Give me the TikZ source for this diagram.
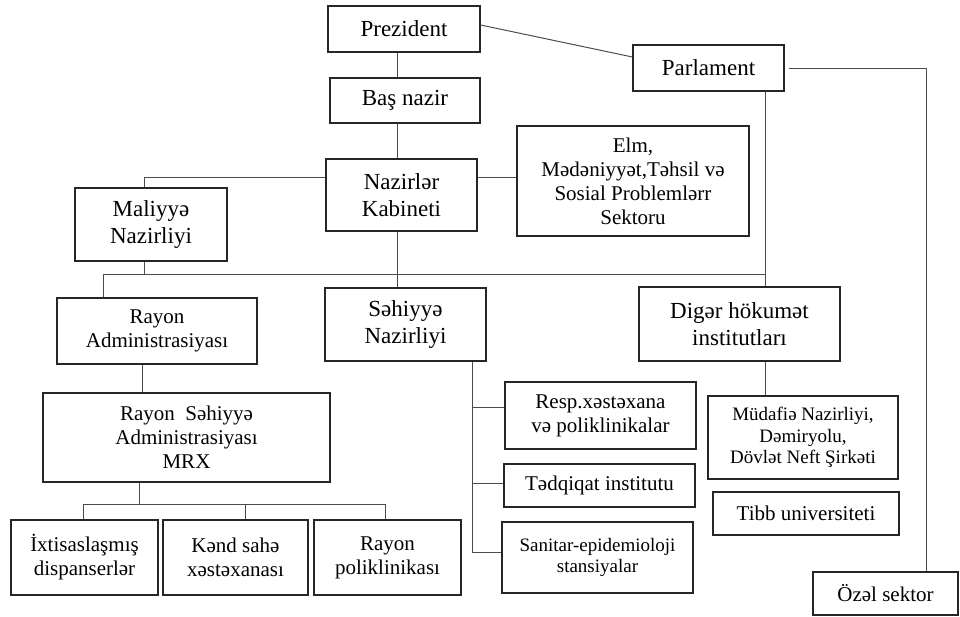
\documentclass[tikz,border=0pt]{standalone}
\usepackage{fontspec}
\setmainfont{Liberation Serif}
\usetikzlibrary{calc}

\begin{document}
\begin{tikzpicture}
[x=1pt, y=-1pt,
% STYLES
% The unit style is used to draw the boxes of the structure
unit/.style={rectangle, draw=black!85, line width=1.3pt, fill=white, inner sep=2pt, align=center, font=\fontsize{21}{24}\selectfont},
bigunit/.style={unit, font=\fontsize{23}{27}\selectfont},
smallunit/.style={unit, font=\fontsize{19}{21.5}\selectfont},
link/.style={draw=black!70, line width=1pt}]

\useasboundingbox (0,0) rectangle (960,616);

% Draw units
\node [bigunit, minimum width=152pt, minimum height=46pt] (prezident) at (404,29) {Prezident};
\node [bigunit, minimum width=150pt, minimum height=45pt] (basnazir) at (405,100.5) {Baş nazir};
\node [bigunit, minimum width=151pt, minimum height=72pt] (kabinet) at (401.5,195) {Nazirlər\\Kabineti};
\node [bigunit, minimum width=151pt, minimum height=46pt] (parlament) at (708.5,68) {Parlament};
\node [unit, minimum width=232pt, minimum height=110pt] (elm) at (633,181) {Elm,\\Mədəniyyət,Təhsil və\\Sosial Problemlərr\\Sektoru};
\node [bigunit, minimum width=152pt, minimum height=73pt] (maliyye) at (151,224.5) {Maliyyə\\Nazirliyi};
\node [unit, minimum width=200pt, minimum height=66pt] (rayon) at (157,331) {Rayon\\Administrasiyası};
\node [bigunit, minimum width=161pt, minimum height=73pt] (sehiyye) at (405.5,324.5) {Səhiyyə\\Nazirliyi};
\node [bigunit, minimum width=201pt, minimum height=74pt] (diger) at (739.5,324) {Digər hökumət\\institutları};
\node [unit, minimum width=287pt, minimum height=89pt] (mrx) at (186.5,437.5) {Rayon\ \ Səhiyyə\\Administrasiyası\\MRX};
\node [unit, minimum width=147pt, minimum height=75pt] (ixtisas) at (84.5,557.5) {İxtisaslaşmış\\dispanserlər};
\node [unit, minimum width=145pt, minimum height=75pt] (kend) at (235.5,557.5) {Kənd sahə\\xəstəxanası};
\node [unit, minimum width=147pt, minimum height=75pt] (poliklinika) at (387.5,557.5) {Rayon\\poliklinikası};
\node [unit, minimum width=191pt, minimum height=67pt] (resp) at (600.5,415.5) {Resp.xəstəxana\\və poliklinikalar};
\node [unit, minimum width=191pt, minimum height=43pt] (tedqiqat) at (599.5,485.5) {Tədqiqat institutu};
\node [smallunit, minimum width=191pt, minimum height=71pt] (sanitar) at (597.5,557.5) {Sanitar-epidemioloji\\stansiyalar};
\node [smallunit, minimum width=190pt, minimum height=83pt] (mudafie) at (803,437.5) {Müdafiə Nazirliyi,\\Dəmiryolu,\\Dövlət Neft Şirkəti};
\node [unit, minimum width=186pt, minimum height=43pt] (tibb) at (806,513.5) {Tibb universiteti};
\node [unit, minimum width=145pt, minimum height=43pt] (ozel) at (885.5,593.5) {Özəl sektor};

% Draw links
\coordinate (spine) at (397,177);
\coordinate (malx) at (144,274);
\coordinate (bus) at (103,274);
\coordinate (parx) at (765,274);
\coordinate (ozx) at (926,0);
\coordinate (rayx) at (142,0);
\coordinate (mrxx) at (139,504);
\coordinate (d1) at (83,504);
\coordinate (d2) at (245,504);
\coordinate (d3) at (385,504);
\coordinate (t1) at (472,407);
\coordinate (t2) at (472,483);
\coordinate (t3) at (472,552);

\draw [link] (prezident.south -| spine) -- (basnazir.north -| spine);
\draw [link] (basnazir.south -| spine) -- (kabinet.north -| spine);
\draw [link] (kabinet.south -| spine) -- (sehiyye.north -| spine);
\draw [link] ($(prezident.east)+(0,-4)$) -- ($(parlament.west)+(0,-11)$);
\draw [link, shorten <=4pt] (parlament.east) -| (ozel.north -| ozx);
\draw [link] (parlament.south -| parx) -- (diger.north -| parx);
\draw [link] (kabinet.west |- spine) -| (maliyye.north -| malx);
\draw [link] (kabinet.east |- spine) -- (elm.west |- spine);
\draw [link] (maliyye.south -| malx) -- (malx);
\draw [link] (rayon.north -| bus) -- (bus) -- (parx);
\draw [link] (rayon.south -| rayx) -- (mrx.north -| rayx);
\draw [link] (mrx.south -| mrxx) -- (mrxx);
\draw [link] (ixtisas.north -| d1) |- (d3) -- (poliklinika.north -| d3);
\draw [link] (d2) -- (kend.north -| d2);
\draw [link] (sehiyye.south -| t1) |- (sanitar.west |- t3);
\draw [link] (t1) -- (resp.west |- t1);
\draw [link] (t2) -- (tedqiqat.west |- t2);
\draw [link] (diger.south -| parx) -- (mudafie.north -| parx);

\end{tikzpicture}
\end{document}
